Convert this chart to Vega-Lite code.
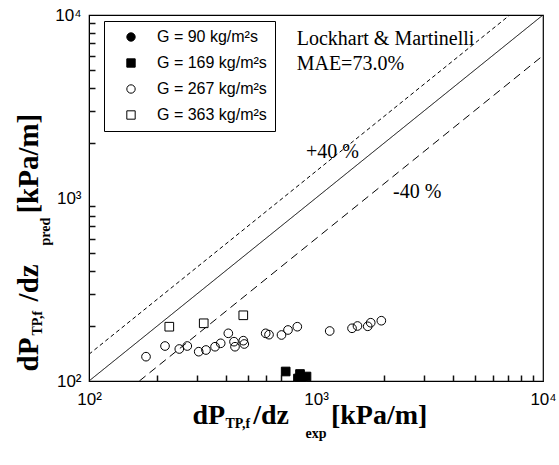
{
  "$schema": "https://vega.github.io/schema/vega-lite/v6.json",
  "width": 454,
  "height": 366,
  "autosize": {"type": "none"},
  "padding": {"left": 89, "top": 15, "right": 16, "bottom": 84},
  "background": "white",
  "config": {
    "view": {"stroke": "black", "strokeWidth": 1.2},
    "axis": {"grid": false, "domainColor": "black", "labelColor": "black", "titleColor": "black", "labelFlush": false, "labelOverlap": false},
    "legend": {
      "title": null, "orient": "none", "legendX": 15, "legendY": 6,
      "strokeColor": "black", "fillColor": "white", "padding": 8,
      "labelFont": "Liberation Sans", "labelFontSize": 16, "labelColor": "black",
      "symbolSize": 70, "symbolStrokeColor": "black", "symbolStrokeWidth": 1,
      "rowPadding": 10, "labelOffset": 18, "symbolOffset": 11
    }
  },
  "datasets": {
    "lines": [
      {"line": "1:1", "exp": 100, "pred": 100},
      {"line": "1:1", "exp": 10000, "pred": 10000},
      {"line": "+40%", "exp": 100, "pred": 140},
      {"line": "+40%", "exp": 7142.9, "pred": 10000},
      {"line": "-40%", "exp": 166.7, "pred": 100},
      {"line": "-40%", "exp": 10000, "pred": 6000}
    ],
    "points": [
      {"G": "G = 363 kg/m²s", "exp": 225.8, "pred": 198.0},
      {"G": "G = 363 kg/m²s", "exp": 320.2, "pred": 206.7},
      {"G": "G = 363 kg/m²s", "exp": 478.3, "pred": 228.6},
      {"G": "G = 267 kg/m²s", "exp": 178.3, "pred": 135.8},
      {"G": "G = 267 kg/m²s", "exp": 216.2, "pred": 155.3},
      {"G": "G = 267 kg/m²s", "exp": 249.9, "pred": 149.6},
      {"G": "G = 267 kg/m²s", "exp": 271.0, "pred": 155.3},
      {"G": "G = 267 kg/m²s", "exp": 304.3, "pred": 144.6},
      {"G": "G = 267 kg/m²s", "exp": 327.6, "pred": 147.7},
      {"G": "G = 267 kg/m²s", "exp": 359.1, "pred": 153.9},
      {"G": "G = 267 kg/m²s", "exp": 380.3, "pred": 160.7},
      {"G": "G = 267 kg/m²s", "exp": 410.9, "pred": 182.2},
      {"G": "G = 267 kg/m²s", "exp": 435.3, "pred": 164.0},
      {"G": "G = 267 kg/m²s", "exp": 439.7, "pred": 153.9},
      {"G": "G = 267 kg/m²s", "exp": 478.3, "pred": 166.1},
      {"G": "G = 267 kg/m²s", "exp": 483.2, "pred": 159.3},
      {"G": "G = 267 kg/m²s", "exp": 600.2, "pred": 182.2},
      {"G": "G = 267 kg/m²s", "exp": 620.9, "pred": 179.1},
      {"G": "G = 267 kg/m²s", "exp": 704.7, "pred": 178.4},
      {"G": "G = 267 kg/m²s", "exp": 752.7, "pred": 190.0},
      {"G": "G = 267 kg/m²s", "exp": 827.3, "pred": 198.0},
      {"G": "G = 267 kg/m²s", "exp": 1149, "pred": 187.6},
      {"G": "G = 267 kg/m²s", "exp": 1441, "pred": 194.1},
      {"G": "G = 267 kg/m²s", "exp": 1523, "pred": 199.8},
      {"G": "G = 267 kg/m²s", "exp": 1690, "pred": 199.0},
      {"G": "G = 267 kg/m²s", "exp": 1742, "pred": 208.2},
      {"G": "G = 267 kg/m²s", "exp": 1940, "pred": 213.5},
      {"G": "G = 169 kg/m²s", "exp": 735.3, "pred": 112.7},
      {"G": "G = 169 kg/m²s", "exp": 850.3, "pred": 109.2},
      {"G": "G = 169 kg/m²s", "exp": 908.1, "pred": 105.8},
      {"G": "G = 169 kg/m²s", "exp": 833.2, "pred": 103.2},
      {"G": "G = 169 kg/m²s", "exp": 870.0, "pred": 101.0}
    ],
    "notes": [
      {"label": "Lockhart & Martinelli", "exp": 822, "pred": 6855},
      {"label": "MAE=73.0%", "exp": 822, "pred": 5006},
      {"label": "+40 %", "exp": 903, "pred": 1654},
      {"label": "-40 %", "exp": 2184, "pred": 1000}
    ]
  },
  "layer": [
    {
      "data": {"name": "lines"},
      "mark": {"type": "line", "color": "black", "strokeWidth": 1, "clip": true},
      "encoding": {
        "x": {
          "field": "exp", "type": "quantitative",
          "scale": {"type": "log", "domain": [100, 10000], "nice": false},
          "axis": {
            "orient": "bottom",
            "values": [100, 1000, 10000],
            "labelExpr": "datum.value == 100 ? '10²' : datum.value == 1000 ? '10³' : '10⁴'",
            "ticks": false, "labelPadding": 10, "labelFont": "Liberation Sans", "labelFontSize": 17,
            "title": "dP\u00a0\u00a0\u00a0\u00a0/dz\u00a0\u00a0\u00a0\u00a0\u00a0\u00a0[kPa/m]",
            "titleFont": "Liberation Serif", "titleFontSize": 28, "titleFontWeight": "bold",
            "titleAlign": "left", "titleBaseline": "alphabetic", "titleX": 103, "titleY": 42
          }
        },
        "y": {
          "field": "pred", "type": "quantitative",
          "scale": {"type": "log", "domain": [100, 10000], "nice": false},
          "axis": {
            "orient": "left",
            "values": [100, 1000, 10000],
            "labelExpr": "datum.value == 100 ? '10²' : datum.value == 1000 ? '10³' : '10⁴'",
            "ticks": false, "labelPadding": 8, "labelFont": "Liberation Sans", "labelFontSize": 17,
            "title": "dP\u00a0\u00a0\u00a0\u00a0\u00a0/dz\u00a0\u00a0\u00a0\u00a0\u00a0\u00a0\u00a0[kPa/m]",
            "titleFont": "Liberation Serif", "titleFontSize": 29, "titleFontWeight": "bold",
            "titleAngle": -90, "titleAlign": "left", "titleBaseline": "alphabetic", "titleX": -52, "titleY": 356
          }
        },
        "detail": {"field": "line"},
        "strokeDash": {
          "field": "line", "type": "nominal",
          "scale": {"domain": ["1:1", "+40%", "-40%"], "range": [[1, 0], [4, 3], [8, 5]]},
          "legend": null
        }
      }
    },
    {
      "data": {"name": "points"},
      "mark": {"type": "point", "strokeWidth": 1, "size": 75, "opacity": 1, "clip": true},
      "encoding": {
        "x": {
          "field": "exp", "type": "quantitative",
          "scale": {"type": "log", "domain": [100, 10000], "nice": false},
          "axis": {
            "orient": "bottom", "offset": -6, "labels": false, "domain": false,
            "values": [200, 300, 400, 500, 600, 700, 800, 900, 2000, 3000, 4000, 5000, 6000, 7000, 8000, 9000],
            "ticks": true, "tickSize": 6, "tickColor": "#111111", "tickWidth": 1.5,
            "title": "TP,f",
            "titleFont": "Liberation Serif", "titleFontSize": 14, "titleFontWeight": "bold",
            "titleAlign": "left", "titleBaseline": "alphabetic", "titleX": 136, "titleY": 52
          }
        },
        "y": {
          "field": "pred", "type": "quantitative",
          "scale": {"type": "log", "domain": [100, 10000], "nice": false},
          "axis": {
            "orient": "left", "offset": -6, "labels": false, "domain": false,
            "values": [200, 300, 400, 500, 600, 700, 800, 900, 2000, 3000, 4000, 5000, 6000, 7000, 8000, 9000],
            "ticks": true, "tickSize": 6, "tickColor": "#111111", "tickWidth": 1.5,
            "title": "TP,f",
            "titleFont": "Liberation Serif", "titleFontSize": 14, "titleFontWeight": "bold",
            "titleAngle": -90, "titleAlign": "left", "titleBaseline": "alphabetic", "titleX": -54, "titleY": 320
          }
        },
        "shape": {
          "field": "G", "type": "nominal",
          "scale": {"domain": ["G = 90 kg/m²s", "G = 169 kg/m²s", "G = 267 kg/m²s", "G = 363 kg/m²s"], "range": ["circle", "square", "circle", "square"]}
        },
        "fill": {
          "field": "G", "type": "nominal",
          "scale": {"domain": ["G = 90 kg/m²s", "G = 169 kg/m²s", "G = 267 kg/m²s", "G = 363 kg/m²s"], "range": ["black", "black", "transparent", "transparent"]}
        },
        "stroke": {
          "field": "G", "type": "nominal",
          "scale": {"domain": ["G = 90 kg/m²s", "G = 169 kg/m²s", "G = 267 kg/m²s", "G = 363 kg/m²s"], "range": ["black", "black", "black", "black"]}
        }
      }
    },
    {
      "data": {"name": "notes"},
      "mark": {"type": "text", "font": "Liberation Serif", "fontSize": 20, "align": "left", "baseline": "alphabetic", "color": "black"},
      "encoding": {
        "x": {
          "field": "exp", "type": "quantitative",
          "scale": {"type": "log", "domain": [100, 10000], "nice": false},
          "axis": {
            "orient": "bottom", "labels": false, "ticks": false, "domain": false,
            "title": "exp",
            "titleFont": "Liberation Serif", "titleFontSize": 14, "titleFontWeight": "bold",
            "titleAlign": "left", "titleBaseline": "alphabetic", "titleX": 216, "titleY": 56
          }
        },
        "y": {
          "field": "pred", "type": "quantitative",
          "scale": {"type": "log", "domain": [100, 10000], "nice": false},
          "axis": {
            "orient": "left", "labels": false, "ticks": false, "domain": false,
            "title": "pred",
            "titleFont": "Liberation Serif", "titleFontSize": 14, "titleFontWeight": "bold",
            "titleAngle": -90, "titleAlign": "left", "titleBaseline": "alphabetic", "titleX": -40, "titleY": 230
          }
        },
        "text": {"field": "label"}
      }
    }
  ],
  "resolve": {"axis": {"x": "independent", "y": "independent"}}
}
